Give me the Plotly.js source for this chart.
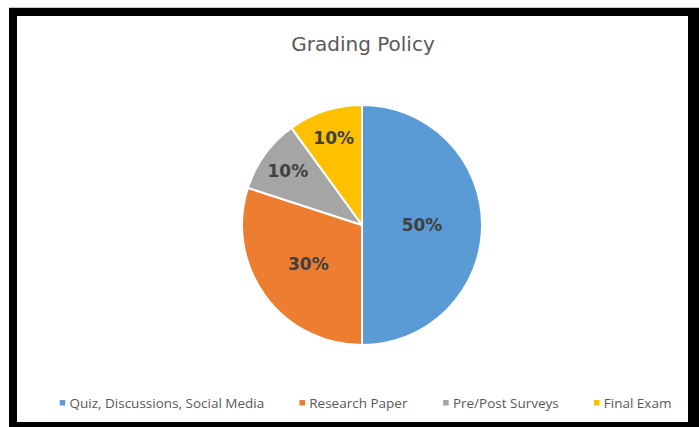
<!DOCTYPE html>
<html>
<head>
<meta charset="utf-8">
<script src="https://cdn.plot.ly/plotly-3.0.1.min.js"></script>
<style>
  html, body { margin: 0; padding: 0; background: #ffffff; }
  #chart { width: 699px; height: 427px; }
  #chart .legend path.legendpie { transform: translate(24px, 0px) scale(0.55); }
  #chart .legend text.legendtext { transform: translate(-9px, 0px); }
</style>
</head>
<body>
<div id="chart"></div>
<script>
const categories = ["Quiz, Discussions, Social Media", "Research Paper", "Pre/Post Surveys", "Final Exam"];
const shares = [50, 30, 10, 10];
const sliceColors = ["#5B9BD5", "#ED7D31", "#A5A5A5", "#FFC000"];
const chartTitle = "Grading Policy";

const W = 699, H = 427;
const px = v => v / W;
const py = v => 1 - v / H;

const trace = {
  type: "pie",
  labels: categories,
  values: shares,
  sort: false,
  direction: "clockwise",
  rotation: 0,
  marker: { colors: sliceColors, line: { color: "#ffffff", width: 2 } },
  texttemplate: "%{percent:.0%}",
  textposition: "inside",
  insidetextorientation: "horizontal",
  textfont: { family: "DejaVu Sans", size: 17, color: "#404040", weight: "bold" },
  hoverinfo: "label+percent",
  domain: { x: [px(242), px(482)], y: [py(345), py(105)] }
};

const border = "#000000";
const layout = {
  width: W, height: H,
  margin: { l: 0, r: 0, t: 0, b: 0 },
  paper_bgcolor: "#ffffff",
  title: {
    text: chartTitle,
    font: { family: "DejaVu Sans", size: 20, color: "#595959" },
    x: px(363), xanchor: "center", xref: "paper",
    y: py(44), yanchor: "middle", yref: "paper"
  },
  showlegend: true,
  legend: {
    orientation: "h",
    x: px(362), xanchor: "center",
    y: py(403), yanchor: "middle",
    font: { family: "Open Sans", size: 13.5, color: "#595959" },
    itemwidth: 30,
    tracegroupgap: 0,
    bgcolor: "rgba(0,0,0,0)"
  },
  shapes: [
    { type: "rect", xref: "paper", yref: "paper", x0: px(9), x1: 1, y0: py(16), y1: py(8), fillcolor: border, line: { width: 0 } },
    { type: "rect", xref: "paper", yref: "paper", x0: px(9), x1: px(17), y0: py(422), y1: py(8), fillcolor: border, line: { width: 0 } },
    { type: "rect", xref: "paper", yref: "paper", x0: px(9), x1: 1, y0: 0, y1: py(422), fillcolor: border, line: { width: 0 } },
    { type: "rect", xref: "paper", yref: "paper", x0: px(688), x1: 1, y0: 0, y1: py(8), fillcolor: border, line: { width: 0 } },
    { type: "line", xref: "paper", yref: "paper", x0: px(9), x1: 1, y0: py(7.5), y1: py(7.5), line: { color: "#c8c8c8", width: 1 } }
  ]
};

Plotly.newPlot("chart", [trace], layout, { displayModeBar: false, staticPlot: true });
</script>
</body>
</html>
